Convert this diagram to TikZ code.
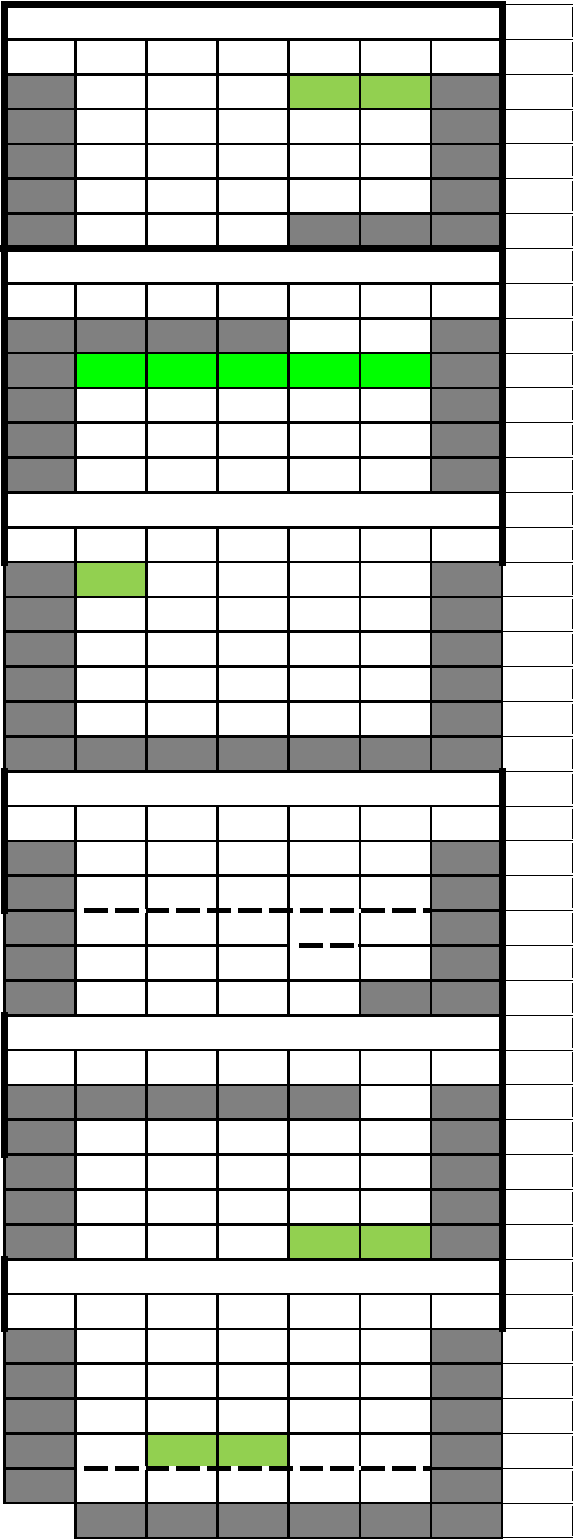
\documentclass[tikz,border=0pt]{standalone}
\usepackage{tikz}
\definecolor{cgrey}{RGB}{128,128,128}
\definecolor{clime}{RGB}{146,208,80}
\definecolor{cgreen}{RGB}{0,255,0}

\begin{document}
\begin{tikzpicture}[x=35.535pt, y=-17.425pt,
    cellline/.style={draw=black, line width=1.35pt},
    edge/.style={draw=black, line width=3.5pt, line cap=rect},
    sideline/.style={draw=black, line width=0.5pt},
    cutline/.style={draw=black, line width=2.75pt, dash pattern=on 11.9pt off 3.5pt, dash phase=11.9pt},
    eraseline/.style={draw=white, line width=2pt}]
    \fill[white] (-0.0633,-0.129) rectangle (8.0133,44.03);
    \useasboundingbox (-0.0633,-0.129) rectangle (8.0133,44.03);

    \foreach \a/\b in {3/7,10/14,17/22,25/29,32/36,39/43}
      \foreach \r in {\a,...,\b} {
        \fill[cgrey] (0,\r-1) rectangle (1,\r);
        \fill[cgrey] (6,\r-1) rectangle (7,\r);
      }
    \foreach \c/\r in {5/7,6/7,2/10,3/10,4/10,2/22,3/22,4/22,5/22,6/22,6/29,
                       2/32,3/32,4/32,5/32,2/44,3/44,4/44,5/44,6/44,7/44}
      \fill[cgrey] (\c-1,\r-1) rectangle (\c,\r);
    \foreach \c/\r in {5/3,6/3,2/17,5/36,6/36,3/42,4/42}
      \fill[clime] (\c-1,\r-1) rectangle (\c,\r);
    \foreach \c in {2,...,6}
      \fill[cgreen] (\c-1,10) rectangle (\c,11);

    \foreach \a/\b in {2/7,9/14,16/22,24/29,31/36,38/43}
      \foreach \r in {\a,...,\b}
        \foreach \c in {1,...,7}
          \draw[cellline] (\c-1,\r-1) rectangle (\c,\r);
    \foreach \c in {2,...,7}
      \draw[cellline] (\c-1,43) rectangle (\c,44);
    \foreach \r in {1,8,15,23,30,37}
      \draw[cellline] (0,\r-1) rectangle (7,\r);

    \draw[eraseline] (1.02,26) -- (5.98,26);
    \draw[cutline] (1.02,26) -- (6.015,26);
    \draw[eraseline] (4.02,27) -- (4.98,27);
    \draw[cutline] (4.045,27) -- (5,27);
    \draw[eraseline] (1.02,42) -- (5.98,42);
    \draw[cutline] (1.02,42) -- (6.015,42);

    \foreach \r in {0,...,44}
      \draw[sideline] (7,\r) -- (8,\r);
    \foreach \r in {1,...,44}
      \draw[sideline] (7.99,\r-0.93) -- (7.99,\r-0.07);

    \draw[edge] (0,16) -- (0,0) -- (7,0) -- (7,16);
    \draw[edge] (-0.0633,7) -- (7,7);
    \draw[edge] (0,22) -- (0,26);
    \draw[edge] (7,22) -- (7,38);
    \draw[edge] (0,29) -- (0,33);
    \draw[edge] (0,36) -- (0,38);
\end{tikzpicture}
\end{document}
